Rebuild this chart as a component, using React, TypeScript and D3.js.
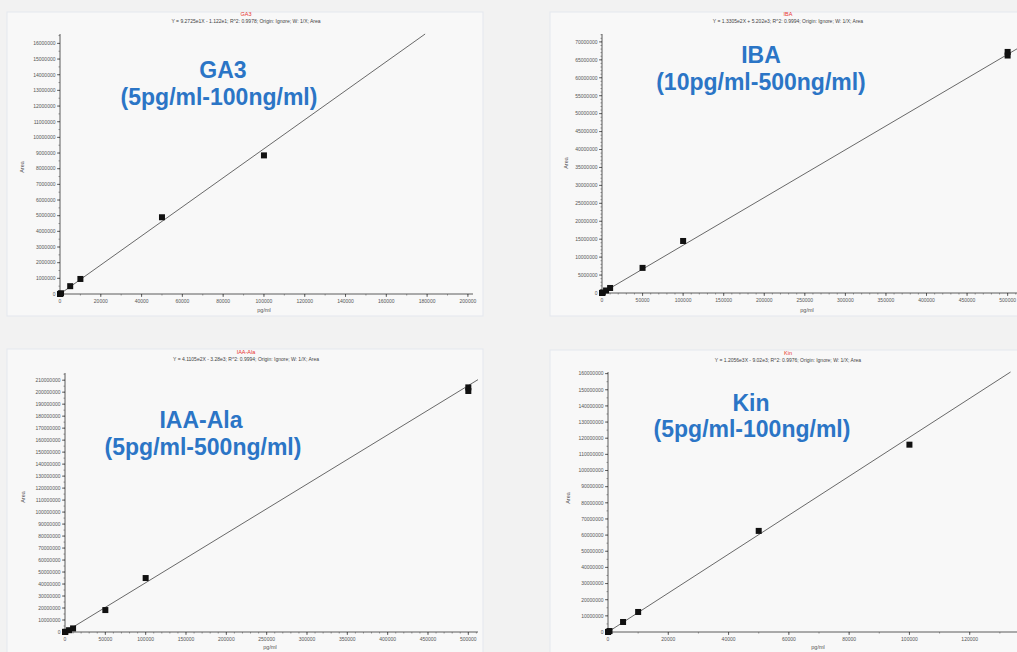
import React from 'react';
import * as d3 from 'd3';

// concentrations (pg/ml) and peak areas
const ga3Conc = [5, 50, 500, 5000, 10000, 50000, 100000];
const ga3Area = [500, 5000, 46000, 500000, 960000, 4900000, 8850000];

const ibaConc = [10, 100, 1000, 5000, 10000, 50000, 100000, 500000, 500000];
const ibaArea = [1300, 13000, 130000, 700000, 1400000, 7000000, 14500000, 66200000, 67200000];

const iaaConc = [5, 50, 500, 5000, 10000, 50000, 100000, 500000, 500000];
const iaaArea = [2000, 20000, 200000, 1500000, 3000000, 18300000, 45000000, 201000000, 204000000];

const kinConc = [5, 50, 500, 5000, 10000, 50000, 100000];
const kinArea = [6000, 60000, 600000, 6200000, 12400000, 62600000, 116000000];

const ga3XTicks = [0, 20000, 40000, 60000, 80000, 100000, 120000, 140000, 160000, 180000, 200000];
const ga3YTicks = [0, 1000000, 2000000, 3000000, 4000000, 5000000, 6000000, 7000000, 8000000, 9000000,
  10000000, 11000000, 12000000, 13000000, 14000000, 15000000, 16000000];
const ibaXTicks = [0, 50000, 100000, 150000, 200000, 250000, 300000, 350000, 400000, 450000, 500000];
const ibaYTicks = [0, 5000000, 10000000, 15000000, 20000000, 25000000, 30000000, 35000000, 40000000,
  45000000, 50000000, 55000000, 60000000, 65000000, 70000000];
const iaaXTicks = [0, 50000, 100000, 150000, 200000, 250000, 300000, 350000, 400000, 450000, 500000];
const iaaYTicks = [0, 10000000, 20000000, 30000000, 40000000, 50000000, 60000000, 70000000, 80000000,
  90000000, 100000000, 110000000, 120000000, 130000000, 140000000, 150000000, 160000000, 170000000,
  180000000, 190000000, 200000000, 210000000];
const kinXTicks = [0, 20000, 40000, 60000, 80000, 100000, 120000];
const kinYTicks = [0, 10000000, 20000000, 30000000, 40000000, 50000000, 60000000, 70000000, 80000000,
  90000000, 100000000, 110000000, 120000000, 130000000, 140000000, 150000000, 160000000];

const BLUE = '#2b75c6';

const panels = [
  {
    name: 'GA3', eq: 'Y = 9.2725e1X - 1.122e1; R^2: 0.9978; Origin: Ignore; W: 1/X; Area',
    label: ['GA3', '(5pg/ml-100ng/ml)'], labelPos: [223, 78, 219, 105],
    conc: ga3Conc, area: ga3Area, slope: 92.725, icpt: -11.22,
    xTicks: ga3XTicks, yTicks: ga3YTicks, xMinor: 10000, yMinor: 500000,
    frame: [7, 12, 476, 304], xd: [0, 202500], xr: [60, 473], yd: [0, 16600000], yr: [294, 34],
    titleX: 246, titleY: 16, areaX: 24, areaY: 167, xlabX: 264, xlabY: 312,
  },
  {
    name: 'IBA', eq: 'Y = 1.3305e2X + 5.202e3; R^2: 0.9994; Origin: Ignore; W: 1/X; Area',
    label: ['IBA', '(10pg/ml-500ng/ml)'], labelPos: [761, 63, 761, 90],
    conc: ibaConc, area: ibaArea, slope: 133.05, icpt: 5202,
    xTicks: ibaXTicks, yTicks: ibaYTicks, xMinor: 10000, yMinor: 1000000,
    frame: [550, 12, 480, 304], xd: [0, 514000], xr: [602, 1019], yd: [0, 72200000], yr: [293, 34],
    titleX: 788, titleY: 16, areaX: 568, areaY: 163, xlabX: 807, xlabY: 312,
  },
  {
    name: 'IAA-Ala', eq: 'Y = 4.1105e2X - 3.28e3; R^2: 0.9994; Origin: Ignore; W: 1/X; Area',
    label: ['IAA-Ala', '(5pg/ml-500ng/ml)'], labelPos: [201, 428, 203, 455],
    conc: iaaConc, area: iaaArea, slope: 411.05, icpt: -3280,
    xTicks: iaaXTicks, yTicks: iaaYTicks, xMinor: 10000, yMinor: 5000000,
    frame: [7, 349, 476, 310], xd: [0, 512000], xr: [65, 478], yd: [0, 216000000], yr: [632, 373],
    titleX: 246, titleY: 354, areaX: 25, areaY: 497, xlabX: 270, xlabY: 649,
  },
  {
    name: 'Kin', eq: 'Y = 1.2056e3X - 9.02e3; R^2: 0.9976; Origin: Ignore; W: 1/X; Area',
    label: ['Kin', '(5pg/ml-100ng/ml)'], labelPos: [751, 411, 752, 437],
    conc: kinConc, area: kinArea, slope: 1205.6, icpt: -9020,
    xTicks: kinXTicks, yTicks: kinYTicks, xMinor: 10000, yMinor: 5000000,
    frame: [550, 350, 480, 310], xd: [0, 140000], xr: [608, 1030], yd: [0, 161000000], yr: [632, 372],
    titleX: 788, titleY: 355, areaX: 570, areaY: 498, xlabX: 818, xlabY: 649,
  },
];

function Panel({ p }: { p: any }) {
  const x = d3.scaleLinear().domain(p.xd).range(p.xr);
  const y = d3.scaleLinear().domain(p.yd).range(p.yr);
  const [fx, fy, fw, fh] = p.frame;
  const xMinors = d3.range(0, p.xd[1], p.xMinor);
  const yMinors = d3.range(0, p.yd[1], p.yMinor);
  const xEnd = Math.min(p.xd[1], (p.yd[1] - p.icpt) / p.slope);
  const fit = d3.line<number>().x(d => x(d)).y(d => y(p.slope * d + p.icpt));
  const x0 = p.xr[0];
  const y0 = p.yr[0];
  return (
    <g>
      <rect x={fx} y={fy} width={fw} height={fh} fill="#f8f8f8" stroke="#e4e7ee" strokeWidth={1} />
      <text x={p.titleX} y={p.titleY} fill="#e8342e" fontSize={5.5} textAnchor="middle">{p.name}</text>
      <text x={p.titleX} y={p.titleY + 7} fill="#444" fontSize={5} textAnchor="middle">{p.eq}</text>

      {/* axes */}
      <line x1={x0} x2={x0} y1={y0} y2={p.yr[1]} stroke="#333" strokeWidth={0.8} />
      <line x1={x0} x2={p.xr[1]} y1={y0} y2={y0} stroke="#333" strokeWidth={0.8} />
      {yMinors.map(v => (
        <line key={'ym' + v} x1={x0 - 1.5} x2={x0} y1={y(v)} y2={y(v)} stroke="#555" strokeWidth={0.6} />
      ))}
      {xMinors.map(v => (
        <line key={'xm' + v} x1={x(v)} x2={x(v)} y1={y0} y2={y0 + 1.5} stroke="#555" strokeWidth={0.6} />
      ))}
      {p.yTicks.map((v: number) => (
        <g key={'y' + v}>
          <line x1={x0 - 3} x2={x0} y1={y(v)} y2={y(v)} stroke="#333" strokeWidth={0.7} />
          <text x={x0 - 4.5} y={y(v) + 1.8} fontSize={5} fill="#555" textAnchor="end">{v}</text>
        </g>
      ))}
      {p.xTicks.map((v: number) => (
        <g key={'x' + v}>
          <line x1={x(v)} x2={x(v)} y1={y0} y2={y0 + 3} stroke="#333" strokeWidth={0.7} />
          <text x={x(v)} y={y0 + 9} fontSize={5} fill="#555" textAnchor="middle">{v}</text>
        </g>
      ))}
      <text transform={`translate(${p.areaX},${p.areaY}) rotate(-90)`} fontSize={5.5} fill="#555" textAnchor="middle">Area</text>
      <text x={p.xlabX} y={p.xlabY} fontSize={5.5} fill="#555" textAnchor="middle">pg/ml</text>

      {/* fitted line and calibration points */}
      <path d={fit([0, xEnd]) || ''} fill="none" stroke="#444" strokeWidth={0.8} />
      {p.conc.map((c: number, i: number) => (
        <rect key={'pt' + i} x={x(c) - 3} y={y(p.area[i]) - 3} width={6} height={6} fill="#111" />
      ))}

      <text x={p.labelPos[0]} y={p.labelPos[1]} fill={BLUE} fontSize={23} fontWeight="bold" textAnchor="middle">{p.label[0]}</text>
      <text x={p.labelPos[2]} y={p.labelPos[3]} fill={BLUE} fontSize={23} fontWeight="bold" textAnchor="middle">{p.label[1]}</text>
    </g>
  );
}

export default function App() {
  return (
    <div style={{ position: 'fixed', left: 0, top: 0, width: 1017, height: 652, overflow: 'hidden' }}>
      <svg width={1017} height={652} style={{ display: 'block', fontFamily: 'Arial, "Liberation Sans", sans-serif' }}>
        <rect x={0} y={0} width={1017} height={652} fill="#f2f2f2" />
        {panels.map(p => <Panel key={p.name} p={p} />)}
      </svg>
    </div>
  );
}
